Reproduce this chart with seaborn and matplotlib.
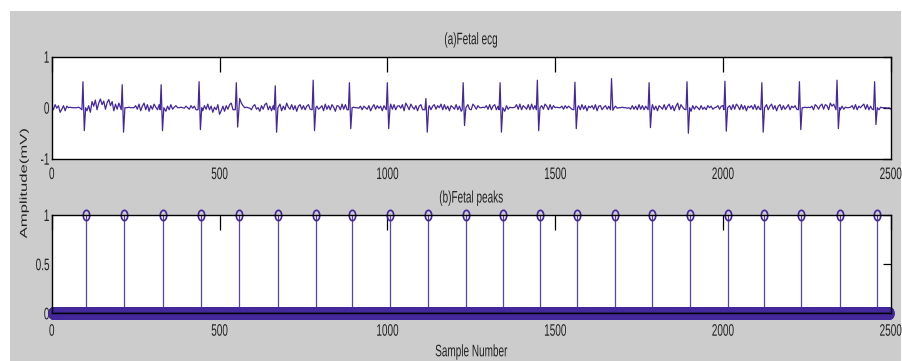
import numpy as np
import pandas as pd
import matplotlib
matplotlib.use("Agg")
import matplotlib.pyplot as plt
from matplotlib.patches import Rectangle
from matplotlib.path import Path
from matplotlib.markers import MarkerStyle
from matplotlib.transforms import Affine2D
from matplotlib.patheffects import AbstractPathEffect
import seaborn as sns

N_SAMPLES = 2500

# R-wave locations (sample index) and QRS deflections (mV) of the fetal ECG
r_wave_pos = [93, 210, 326, 439, 550, 666, 779, 887, 1000, 1115, 1226, 1336,
              1447, 1559, 1668, 1780, 1893, 2006, 2116, 2228, 2340, 2452]
r_wave_amp = [0.51, 0.45, 0.45, 0.51, 0.49, 0.43, 0.54, 0.49, 0.49, 0.18, 0.49,
              0.49, 0.54, 0.50, 0.57, 0.49, 0.51, 0.52, 0.49, 0.51, 0.54, 0.51]
s_wave_amp = [-0.45, -0.48, -0.45, -0.43, -0.38, -0.48, -0.45, -0.41, -0.41,
              -0.48, -0.35, -0.48, -0.45, -0.41, -0.05, -0.39, -0.50, -0.46,
              -0.48, -0.43, -0.41, -0.33]

# Baseline activity between beats, one value every 5 samples (hundredths of mV)
baseline_step = 5
baseline_cmv = [
    # 0 - 245
    3, -4, 6, -1, 4, -9, -3, 4, -6, 3, 0, 1, 0, 0, 0, 0, 1, -1, 0, 0, 0,
    -6, 4, -9, 12, 3, 15, -4, 9, 17, 6, 13, -3, 10, 16, 4, 12, -6, 7, -3, 9,
    0, 0, 0, 0, 0, 1, 0, 0, 0,
    # 250 - 495
    4, -3, 7, -6, 3, 9, -4, 6, -7, 4, -3, 7, 1, -4, 6, 0, 0, 0,
    -7, 3, -4, 6, -3, 1, 4, 0, 0, 1, 0, -1, 3, 0, -3, 4, -1, 3, -4, 0, 0, 0,
    -6, 4, -3, 7, -4, 3, -9, 1, -4, 6,
    # 500 - 745
    -13, -6, 3, -7, 4, -3, 6, 9, -4, 0, 0, 0,
    18, 9, 4, 0, 1, 0, -1, -4, 3, 6, -3, 0, -7, 4, -3, 6, 9, -4, 3, -6, 4,
    0, 0, 0, 7, -6, 3, -4, 9, 1, -3, 6, -4, 4, -7, 3, 6, -3,
    # 750 - 995
    4, -4, 3, 6, -3, 0, 0, 0,
    3, -3, 0, 4, -6, 7, -3, 4, -4, 6, 1, -7, 4, 3, -4, 7, -3, 6, -4, 0, 0, 0,
    1, 0, 0, -1, 3, -4, 3, 0, -3, 4, -6, 1, 6, -3, 4, -1, 3, -6, 4, -3,
    # 1000 - 1245
    0, 0, 7, -3, 6, -4, 3, 4, -1, 6, -6, 9, 3, -4, 7, 1, -3, 4, -6, 3, 6, -4,
    0, 0, 0, 4, -4, 3, 6, -3, 4, 0, 7, -4, 6, -3, 3, -6, 4, 1, -3, 6, -4, 3, -7,
    0, 0, 0, 6, -3,
    # 1250 - 1495
    -4, 7, 3, -3, 4, 0, 0, 1, 0, 4, -3, 6, -4, 3, 6, -4, 3, 0, 0, 0,
    -7, 4, -3, 1, 0, 0, 1, 6, -3, 7, -4, 4, 1, -3, 6, -4, 7, -3, 4, 0, 0, 0,
    4, -3, 7, 3, -4, 6, -3, 4,
    # 1500 - 1745
    0, 1, 0, 0, 3, -3, 4, -1, 3, 0, -3, 0, 0, 0,
    4, -4, 6, -3, 4, -6, 3, 0, 4, -3, 6, -6, 3, 4, -4, 1, 4, -3, 3, 0, 0, 0,
    3, -1, 0, 0, 1, 0, 0, -1, 0, -3, 4, -3, 3, -4,
    # 1750 - 1995
    6, -3, 4, -4, 3, 0, 0, 0,
    6, -4, 3, -6, 4, 1, -3, 6, -4, 3, 7, -3, 4, -6, 3, 9, -4, 6, 1, -3, 0, 0, 0,
    -7, 4, -3, 3, 0, -4, 4, -3, 1, -4, 4, 0, 3, -3, 0, 1, 4, -3, 3,
    # 2000 - 2245
    4, 0, 0, 0, 4, -4, 6, -3, 7, 3, -4, 6, -3, 4, -6, 3, 0, 4, -3, 6, -4, 3, -3,
    0, 0, 0, 6, -4, 3, 7, -3, 4, -6, 3, 6, -4, 4, -3, 1, 6, -4, 3, 0, 4, -3,
    0, 0, 0, 0, 1,
    # 2250 - 2500
    0, 1, 0, 3, -4, 6, 3, -3, 4, 7, -3, 6, 4, -4, 9, 3, 7, 0, 0, 0,
    -4, 3, -3, 1, 0, 0, 1, 4, -3, 6, -4, 3, 0, 4, 7, -3, 6, -4, 3, -3, 0, 0, 0,
    -4, 1, 0, 0, 0, -1, 0, -3,
]

# Detected fetal peak locations (sample index)
peak_pos = [102, 216, 333, 446, 558, 674, 786, 894, 1008, 1122, 1234, 1345,
            1456, 1566, 1677, 1788, 1903, 2014, 2123, 2234, 2349, 2459]

x_ticks = [0, 500, 1000, 1500, 2000, 2500]
ecg_yticks = [-1, 0, 1]
ecg_yticklabels = ["-1", "0", "1"]
peak_yticks = [0, 0.5, 1]
peak_yticklabels = ["0", "0.5", "1"]

# ---- assemble the ECG trace ----
grid_x = np.arange(len(baseline_cmv)) * baseline_step
grid_y = np.asarray(baseline_cmv, dtype=float) / 100.0
keep = np.ones(len(grid_x), dtype=bool)
for r in r_wave_pos:
    keep &= ~((grid_x >= r - 5) & (grid_x <= r + 9))
qrs_x, qrs_y = [], []
for r, up, dn in zip(r_wave_pos, r_wave_amp, s_wave_amp):
    qrs_x += [r - 3, r, r + 4, r + 8]
    qrs_y += [-0.04, up, dn, 0.0]
ecg = pd.DataFrame({
    "sample": np.concatenate([grid_x[keep], qrs_x]),
    "amplitude": np.concatenate([grid_y[keep], qrs_y]),
}).sort_values("sample")

samples = np.arange(N_SAMPLES)
peaks_signal = np.zeros(N_SAMPLES)
peaks_signal[peak_pos] = 1.0


class Condensed(AbstractPathEffect):
    """Squeeze glyphs in their own frame (sx along the text, sy across it)."""

    def __init__(self, sx=1.0, sy=1.0, anchor="center"):
        super().__init__()
        self._sx, self._sy, self._anchor = sx, sy, anchor

    def draw_path(self, renderer, gc, tpath, affine, rgbFace=None):
        ext = tpath.get_extents()
        ax_ = ext.x1 if self._anchor == "right" else 0.5 * (ext.x0 + ext.x1)
        ay_ = 0.5 * (ext.y0 + ext.y1)
        squeeze = (Affine2D().translate(-ax_, -ay_)
                   .scale(self._sx, self._sy).translate(ax_, ay_))
        renderer.draw_path(gc, tpath, squeeze + affine, rgbFace)


NARROW = [Condensed(sx=0.6)]
NARROW_RIGHT = [Condensed(sx=0.6, anchor="right")]

# ---- styling ----
sns.set_style("white")
plt.rcParams["font.family"] = ["Liberation Sans", "DejaVu Sans"]
plt.rcParams["axes.unicode_minus"] = False

LINE_COLOR = "#44279b"
STEM_COLOR = "#5a40b6"
TEXT_COLOR = "#222222"
FS = 12

fig = plt.figure(figsize=(9.03, 3.61), dpi=100, facecolor="white")
fig.patches.append(Rectangle((10 / 903, 0), 891 / 903, 1 - 11 / 361,
                             transform=fig.transFigure, facecolor="#cccccc",
                             edgecolor="none", zorder=-10))

ax1 = fig.add_axes([0.0573, 0.5604, 0.9291, 0.2825])
ax2 = fig.add_axes([0.0573, 0.1321, 0.9291, 0.2723])

# (a) fetal ECG
sns.lineplot(data=ecg, x="sample", y="amplitude", ax=ax1, color=LINE_COLOR,
             linewidth=0.9, estimator=None, sort=False)
ax1.set_xlim(0, N_SAMPLES)
ax1.set_ylim(-1, 1)
ax1.set_yticks(ecg_yticks)
ax1.set_yticklabels(ecg_yticklabels)
ax1.set_xlabel("")
ax1.set_ylabel("")
t1 = ax1.set_title("(a)Fetal ecg", fontsize=FS, color=TEXT_COLOR, pad=9)
t1.set_path_effects(NARROW)

# (b) fetal peaks as a stem plot
ellipse = MarkerStyle(Path.unit_circle().transformed(Affine2D().scale(0.62, 1.0)))
markerline, stemlines, baseline = ax2.stem(samples, peaks_signal,
                                           linefmt="-", markerfmt="o", basefmt="k-")
stemlines.set_color(STEM_COLOR)
stemlines.set_linewidth(0.9)
markerline.set_marker(ellipse)
markerline.set_markersize(7.5)
markerline.set_markerfacecolor("none")
markerline.set_markeredgecolor(LINE_COLOR)
markerline.set_markeredgewidth(1.2)
markerline.set_clip_on(False)
baseline.set_linewidth(1.0)
baseline.set_color("black")
ax2.set_xlim(0, N_SAMPLES)
ax2.set_ylim(0, 1)
ax2.set_yticks(peak_yticks)
ax2.set_yticklabels(peak_yticklabels)
t2 = ax2.set_title("(b)Fetal peaks", fontsize=FS, color=TEXT_COLOR, pad=9)
t2.set_path_effects(NARROW)
xl = ax2.set_xlabel("Sample Number", fontsize=FS, color=TEXT_COLOR, labelpad=4)
xl.set_path_effects(NARROW)
ax2.set_ylabel("")

for ax in (ax1, ax2):
    ax.set_facecolor("white")
    ax.set_xticks(x_ticks)
    for sp in ax.spines.values():
        sp.set_visible(True)
        sp.set_color("black")
        sp.set_linewidth(1.0)
    ax.tick_params(direction="in", top=True, right=True, colors="black",
                   labelcolor=TEXT_COLOR, labelsize=FS, width=0.9)
    ax.tick_params(axis="x", length=10.5, pad=6)
    ax.tick_params(axis="y", length=6, pad=1.5)
    for tk in ax.xaxis.get_major_ticks():
        tk.label1.set_path_effects(NARROW)
        tk.label2.set_path_effects(NARROW)
    for tk in ax.yaxis.get_major_ticks():
        tk.label1.set_path_effects(NARROW_RIGHT)
        tk.label2.set_path_effects(NARROW)

ax2.tick_params(axis="x", pad=7.5)

yl = fig.text(24 / 903, 1 - 183 / 361, "Amplitude(mV)", rotation=90, ha="center",
              va="center", fontsize=FS, color=TEXT_COLOR)
yl.set_path_effects([Condensed(sy=0.6)])

fig.savefig("out.png", dpi=100, facecolor=fig.get_facecolor())
